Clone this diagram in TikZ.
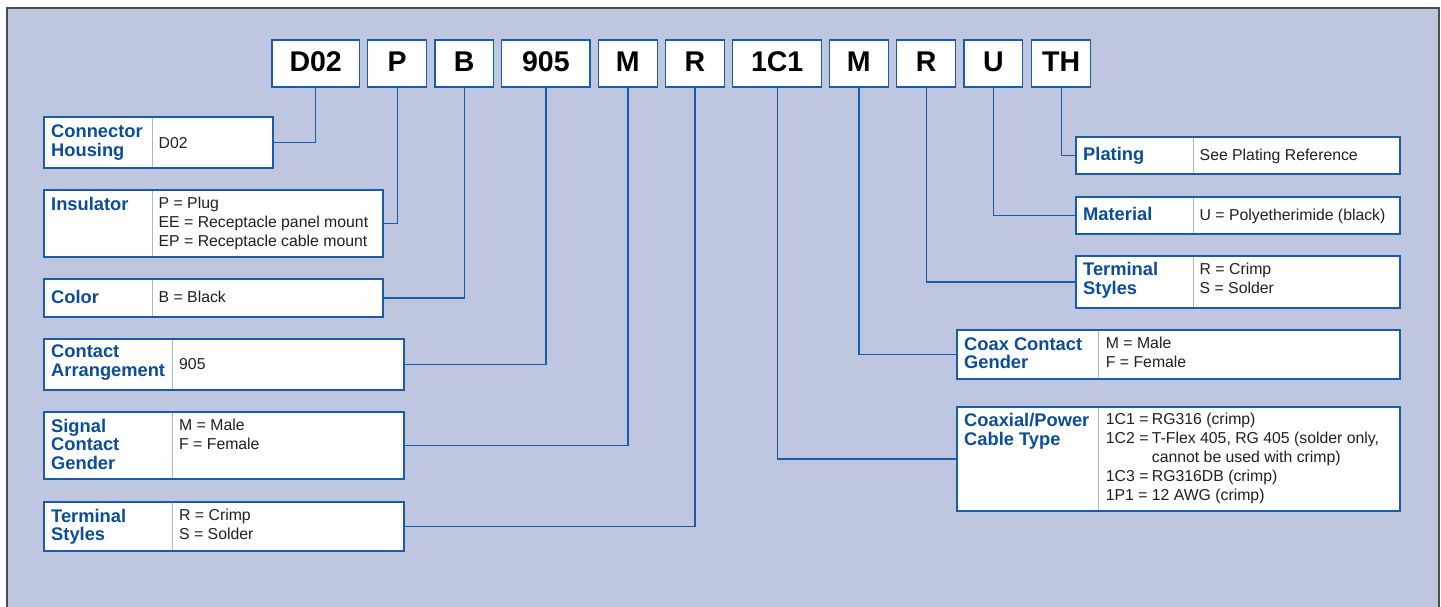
\documentclass[tikz,border=0pt]{standalone}
\usepackage{fontspec}
\setmainfont{Liberation Sans}
\definecolor{bgblue}{HTML}{BEC6E0}
\definecolor{boxblue}{HTML}{1A5CA8}
\definecolor{labblue}{HTML}{0B4D98}
\definecolor{divblue}{HTML}{A7B7DA}
\definecolor{valtext}{HTML}{231F20}
\definecolor{framegray}{HTML}{4D4D4D}
\newcommand\infobox[6]{%
  \node[ibox, minimum width={#4-#2}, minimum height={#5-#3}] (#1) at ({(#2+#4)/2},{(#3+#5)/2}) {};
  \draw[divline] (#6,#3+0.7) -- (#6,#5-0.7);
}
\tikzset{
  ibox/.style={draw=boxblue, fill=white, line width=1.4pt, inner sep=0pt, rectangle},
  divline/.style={draw=divblue, line width=1pt},
  codebox/.style={draw=boxblue, fill=white, line width=1.4pt, inner sep=0pt,
    minimum height=47pt, text height=20pt, text depth=3.6pt,
    font=\fontsize{28.5}{30}\selectfont\bfseries, text=black},
  lab/.style={anchor=base west, inner sep=0pt, text=labblue,
    font=\fontsize{18.3}{18.7}\selectfont\bfseries},
  val/.style={anchor=base west, inner sep=0pt, text=valtext,
    font=\fontsize{15.8}{19}\selectfont},
  conn/.style={draw=boxblue, line width=1.4pt}
}
\begin{document}
\begin{tikzpicture}[x=1pt,y=-1pt]
\useasboundingbox (0,0) rectangle (1441,606);
\clip (0,0) rectangle (1441,606);
\fill[white] (0,0) rectangle (1441,606);
\fill[bgblue] (7,8) rectangle (1439,640);
\draw[framegray, line width=1.5pt] (7,640) -- (7,8) -- (1439,8) -- (1439,640);

% code boxes
\node[codebox, minimum width=87.3pt] (cD02) at (315.7,63.5) {D02};
\node[codebox, minimum width=59pt] (cP) at (397.2,63.5) {P};
\node[codebox, minimum width=58.3pt] (cB) at (464.2,63.5) {B};
\node[codebox, minimum width=88.3pt] (c905) at (545.9,63.5) {905};
\node[codebox, minimum width=59pt] (cM) at (627.8,63.5) {M};
\node[codebox, minimum width=58.6pt] (cR) at (695,63.5) {R};
\node[codebox, minimum width=89pt] (c1C1) at (777.2,63.5) {1C1};
\node[codebox, minimum width=59pt] (cM2) at (858.8,63.5) {M};
\node[codebox, minimum width=59pt] (cR2) at (926.2,63.5) {R};
\node[codebox, minimum width=58.7pt] (cU) at (993.4,63.5) {U};
\node[codebox, minimum width=59pt] (cTH) at (1061.2,63.5) {TH};

% left boxes
\infobox{ch}{44}{117}{273}{168}{152}
\node[lab] (chl) at (51,137.3) {\begin{tabular}[t]{@{}l@{}}Connector\\Housing\end{tabular}};
\node[val] (chv) at (158.5,148) {D02};

\infobox{ins}{44}{190}{383}{257}{152}
\node[lab] (insl) at (51,210.7) {Insulator};
\node[val] (insv) at (158.5,208.3) {\begin{tabular}[t]{@{}l@{}}P = Plug\\EE = Receptacle panel mount\\EP = Receptacle cable mount\end{tabular}};

\infobox{col}{44}{279}{383}{317}{152}
\node[lab] (coll) at (51,303.3) {Color};
\node[val] (colv) at (158.5,302.5) {B = Black};

\infobox{ca}{44}{339}{404}{390}{172.7}
\node[lab] (cal) at (51,357.7) {\begin{tabular}[t]{@{}l@{}}Contact\\Arrangement\end{tabular}};
\node[val] (cav) at (179,369) {905};

\infobox{scg}{44}{412}{404}{479}{172.7}
\node[lab] (scgl) at (51,432) {\begin{tabular}[t]{@{}l@{}}Signal\\Contact\\Gender\end{tabular}};
\node[val] (scgv) at (179,430) {\begin{tabular}[t]{@{}l@{}}M = Male\\F = Female\end{tabular}};

\infobox{ts}{44}{502}{404}{551}{172.7}
\node[lab] (tsl) at (51,522) {\begin{tabular}[t]{@{}l@{}}Terminal\\Styles\end{tabular}};
\node[val] (tsv) at (179,520) {\begin{tabular}[t]{@{}l@{}}R = Crimp\\S = Solder\end{tabular}};

% right boxes
\infobox{pl}{1076}{137}{1400}{174}{1193.3}
\node[lab] (pll) at (1083,160.7) {Plating};
\node[val] (plv) at (1199.5,160.3) {See Plating Reference};

\infobox{mat}{1076}{197}{1400}{234}{1193.3}
\node[lab] (matl) at (1083,220.3) {Material};
\node[val] (matv) at (1199.5,220.5) {U = Polyetherimide (black)};

\infobox{tsr}{1076}{256}{1400}{308}{1193.3}
\node[lab] (tsrl) at (1083,275.7) {\begin{tabular}[t]{@{}l@{}}Terminal\\Styles\end{tabular}};
\node[val] (tsrv) at (1199.5,274.3) {\begin{tabular}[t]{@{}l@{}}R = Crimp\\S = Solder\end{tabular}};

\infobox{ccg}{957}{330}{1400}{379}{1098.7}
\node[lab] (ccgl) at (964,350) {\begin{tabular}[t]{@{}l@{}}Coax Contact\\Gender\end{tabular}};
\node[val] (ccgv) at (1105.7,348.5) {\begin{tabular}[t]{@{}l@{}}M = Male\\F = Female\end{tabular}};

\infobox{cpt}{957}{407}{1400}{511}{1098.7}
\node[lab] (cptl) at (964,426.7) {\begin{tabular}[t]{@{}l@{}}Coaxial/Power\\Cable Type\end{tabular}};
\node[val] (cptv) at (1105.7,424.3) {\begin{tabular}[t]{@{}p{46pt}@{}l@{}}1C1 = & RG316 (crimp)\\1C2 = & T-Flex 405, RG 405 (solder only,\\ & cannot be used with crimp)\\1C3 = & RG316DB (crimp)\\1P1 = & 12 AWG (crimp)\end{tabular}};

% connectors
\draw[conn] (cD02.south) |- (ch.east);
\draw[conn] (cP.south) |- (ins.east);
\draw[conn] (cB.south) |- (col.east);
\draw[conn] (c905.south) |- (ca.east);
\draw[conn] (cM.south) |- (scg.east);
\draw[conn] (cR.south) |- (ts.east);
\draw[conn] (c1C1.south) |- (cpt.west);
\draw[conn] (cM2.south) |- (ccg.west);
\draw[conn] (cR2.south) |- (tsr.west);
\draw[conn] (cU.south) |- (mat.west);
\draw[conn] (cTH.south) |- (pl.west);
\end{tikzpicture}
\end{document}
